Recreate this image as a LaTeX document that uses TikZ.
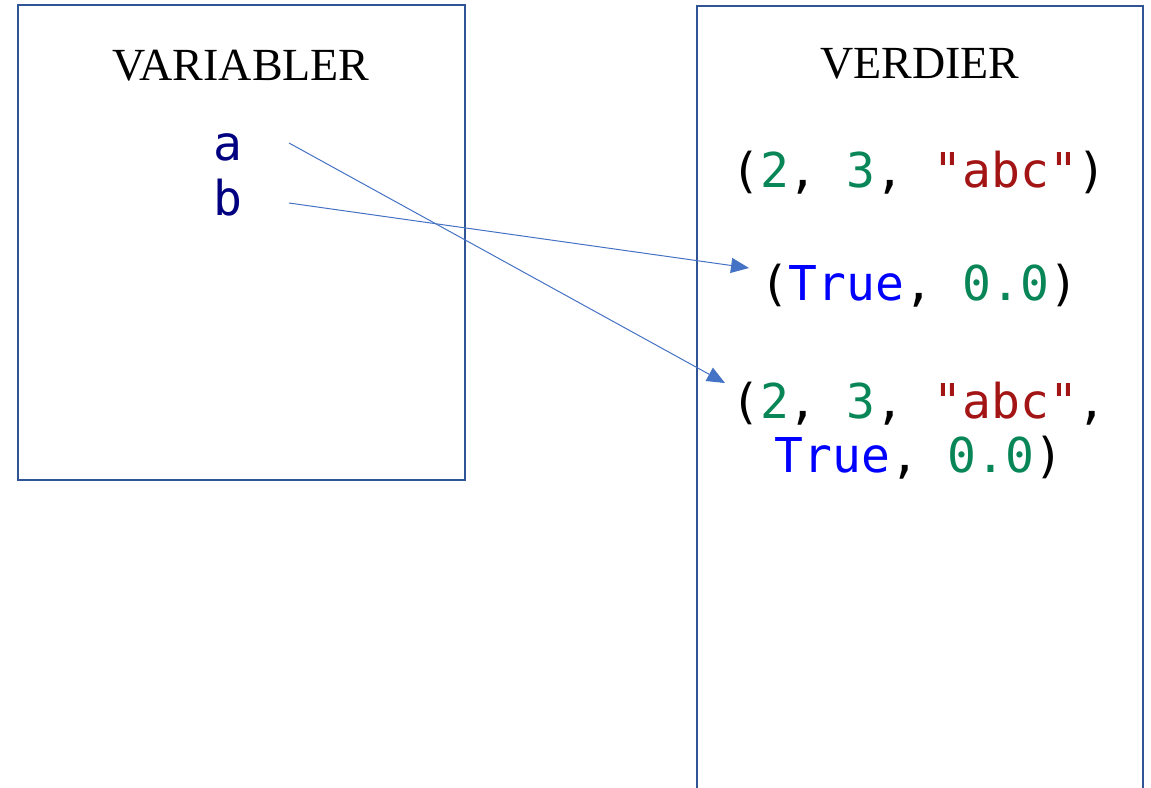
\documentclass[tikz,border=0pt]{standalone}
\usepackage{fontspec}
\setmainfont{Liberation Serif}
\newfontfamily\codefont{DejaVu Sans Mono}
\usetikzlibrary{arrows.meta}
\definecolor{boxblue}{HTML}{2F5597}
\definecolor{arrblue}{HTML}{4472C4}
\definecolor{varnavy}{HTML}{000080}
\definecolor{numgreen}{HTML}{098658}
\definecolor{strred}{HTML}{A31515}
\definecolor{kwblue}{HTML}{0000FF}
\newcommand{\num}[1]{\textcolor{numgreen}{#1}}
\newcommand{\str}[1]{\textcolor{strred}{#1}}
\newcommand{\kw}[1]{\textcolor{kwblue}{#1}}
\begin{document}
\begin{tikzpicture}[x=1pt,y=-1pt,
  frame/.style={draw=boxblue,line width=2.5pt},
  title/.style={anchor=base,inner sep=0pt,font=\fontsize{46}{50}\selectfont},
  code/.style={anchor=base,inner sep=0pt,font=\codefont\fontsize{48}{54}\selectfont},
  varname/.style={code,text=varnavy},
  arr/.style={draw=arrblue,line width=1pt,-{Triangle[length=18pt,width=15pt]}}]
\useasboundingbox (0,0) rectangle (1151,787);
% boxes
\draw[frame] (18,5) rectangle (465,480);
\draw[frame] (697,790) -- (697,6) -- (1143,6) -- (1143,790);
% titles
\node[title] (vartitle) at (241,80) {VARIABLER};
\node[title] (valtitle) at (920,78) {VERDIER};
% variables
\node[varname] (a) at (228,160) {a};
\node[varname] (b) at (228,215) {b};
% values
\node[code] (v1) at (919,187) {(\num{2}, \num{3}, \str{"abc"})};
\node[code] (v2) at (919,300) {(\kw{True}, \num{0.0})};
\node[code] (v3a) at (919,418) {(\num{2}, \num{3}, \str{"abc"},};
\node[code] (v3b) at (919,472) {\kw{True}, \num{0.0})};
% arrows
\coordinate (aout) at (289,143);
\coordinate (bout) at (289,203);
\coordinate (ain) at (725,383);
\coordinate (bin) at (749,268);
\draw[arr] (aout) -- (ain);
\draw[arr] (bout) -- (bin);
\end{tikzpicture}
\end{document}
